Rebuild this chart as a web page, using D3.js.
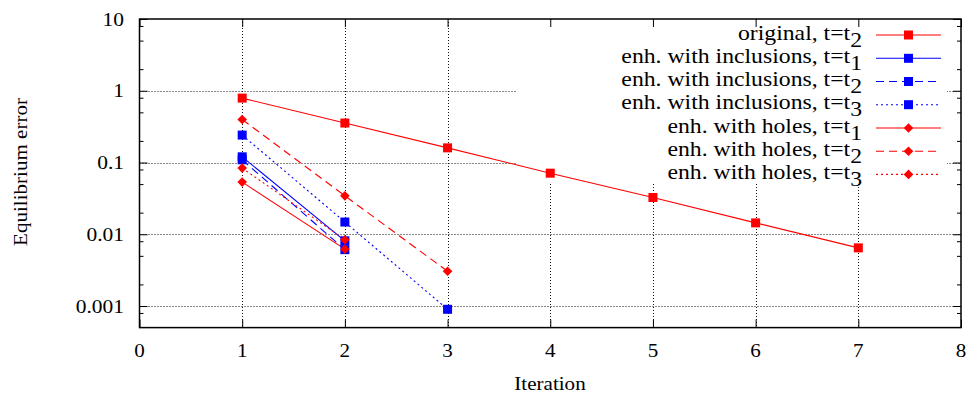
<!DOCTYPE html>
<html>
<head>
<meta charset="utf-8">
<script src="https://cdn.jsdelivr.net/npm/d3@7"></script>
<style>
  html, body { margin: 0; padding: 0; background: #fff; }
  svg { display: block; }
  text { font-family: "Liberation Serif", "DejaVu Serif", serif; fill: #000; }
</style>
</head>
<body>
<svg id="chart" width="968" height="396"></svg>
<script>
// ---- data ----
const xTicks = [0, 1, 2, 3, 4, 5, 6, 7, 8];
const yTicks = [0.001, 0.01, 0.1, 1, 10];
const yTickLabels = ["0.001", "0.01", "0.1", "1", "10"];
const yMinorTicks = [0.0008, 0.002, 0.005, 0.008, 0.02, 0.05, 0.08, 0.2, 0.5, 0.8, 2, 5, 8];

const itersOriginal = [1, 2, 3, 4, 5, 6, 7];
const original = [0.79, 0.355, 0.16, 0.071, 0.0325, 0.0144, 0.00646];
const itersTwo = [1, 2];
const itersThree = [1, 2, 3];
const inclT1 = [0.120, 0.0081];
const inclT2 = [0.109, 0.0061];
const inclT3 = [0.241, 0.0148, 0.00090];
const holesT1 = [0.0533, 0.0062];
const holesT2 = [0.398, 0.0343, 0.00305];
const holesT3 = [0.0835, 0.0084];

const seriesNames = [
  ["original, t=t", "2"],
  ["enh. with inclusions, t=t", "1"],
  ["enh. with inclusions, t=t", "2"],
  ["enh. with inclusions, t=t", "3"],
  ["enh. with holes, t=t", "1"],
  ["enh. with holes, t=t", "2"],
  ["enh. with holes, t=t", "3"]
];

const RED = "#ff0000", BLUE = "#0000ff";
const series = [
  { x: itersOriginal, y: original, color: RED,  dash: null,  marker: "square" },
  { x: itersTwo,      y: inclT1,   color: BLUE, dash: null,  marker: "square" },
  { x: itersTwo,      y: inclT2,   color: BLUE, dash: "8,5", marker: "square" },
  { x: itersThree,    y: inclT3,   color: BLUE, dash: "2,3", marker: "square" },
  { x: itersTwo,      y: holesT1,  color: RED,  dash: null,  marker: "diamond" },
  { x: itersThree,    y: holesT2,  color: RED,  dash: "8,5", marker: "diamond" },
  { x: itersTwo,      y: holesT3,  color: RED,  dash: "2,3", marker: "diamond" }
];

// ---- layout ----
const L = 139.5, R = 961, T = 19, B = 327.6;
const svg = d3.select("#chart");
const x = d3.scaleLinear().domain([0, 8]).range([L, R]);
const y = d3.scaleLog().domain([0.0005, 10]).range([B, T]);

function stretchedText(g, px, py, str, opts) {
  return g.append("text")
    .attr("transform", `translate(${px},${py}) scale(${opts.sx || 1},1)`)
    .attr("font-size", opts.size)
    .attr("text-anchor", opts.anchor || "middle")
    .text(str);
}

// grid
const grid = svg.append("g").attr("stroke", "#111").attr("stroke-width", 1).attr("stroke-dasharray", "1,2");
xTicks.filter(d => d > 0 && d < 8).forEach(d => {
  grid.append("line").attr("x1", Math.round(x(d)) + 0.5).attr("x2", Math.round(x(d)) + 0.5).attr("y1", T).attr("y2", B);
});
yTicks.filter(d => d < 10).forEach(d => {
  grid.append("line").attr("y1", Math.round(y(d)) + 0.5).attr("y2", Math.round(y(d)) + 0.5).attr("x1", L).attr("x2", R);
});

// legend background (covers grid)
svg.append("rect").attr("x", 517).attr("y", T + 1).attr("width", 947 - 517).attr("height", 182 - T - 1).attr("fill", "#fff");

// axes ticks via d3 axis (inward)
const axB = d3.axisBottom(x).tickValues(xTicks).tickSize(-8).tickFormat("");
const axT = d3.axisTop(x).tickValues(xTicks).tickSize(-8).tickFormat("");
const axL = d3.axisLeft(y).tickValues(yTicks).tickSize(-8).tickFormat("");
const axR = d3.axisRight(y).tickValues(yTicks).tickSize(-8).tickFormat("");
const axLm = d3.axisLeft(y).tickValues(yMinorTicks).tickSize(-4).tickFormat("");
const axRm = d3.axisRight(y).tickValues(yMinorTicks).tickSize(-4).tickFormat("");
[[axB, `translate(0,${B})`], [axT, `translate(0,${T})`], [axL, `translate(${L},0)`], [axR, `translate(${R},0)`],
 [axLm, `translate(${L},0)`], [axRm, `translate(${R},0)`]].forEach(([a, tr]) => {
  const g = svg.append("g").attr("transform", tr).call(a);
  g.select(".domain").remove();
  g.selectAll("line").attr("stroke", "#000").attr("stroke-width", 1);
});

// tick labels
const lbl = svg.append("g");
xTicks.forEach(d => stretchedText(lbl, x(d), 357, String(d), { size: 19.5, sx: 1.08 }));
yTicks.forEach((d, i) => stretchedText(lbl, 124, y(d) + 6.5, yTickLabels[i], { size: 19.5, sx: 1.1, anchor: "end" }));

// axis titles
stretchedText(lbl, 550, 390, "Iteration", { size: 19.5, sx: 1.08 });
svg.append("text").attr("transform", "translate(27,172) rotate(-90) scale(1.08,1)")
  .attr("font-size", 19.5).attr("text-anchor", "middle").text("Equilibrium error");

// data lines
const line = d3.line().x(d => x(d[0])).y(d => y(d[1]));
const dataG = svg.append("g");
function drawMarker(g, cx, cy, type, color) {
  if (type === "square") {
    g.append("rect").attr("x", cx - 4.5).attr("y", cy - 4.5).attr("width", 9).attr("height", 9).attr("fill", color);
  } else {
    const s = 4.8;
    g.append("path").attr("d", `M${cx},${cy - s}L${cx + s},${cy}L${cx},${cy + s}L${cx - s},${cy}Z`).attr("fill", color);
  }
}
series.forEach(s => {
  const pts = s.x.map((xi, i) => [xi, s.y[i]]);
  dataG.append("path").attr("d", line(pts)).attr("fill", "none").attr("stroke", s.color).attr("stroke-width", 1.1)
    .attr("stroke-dasharray", s.dash);
});
series.forEach(s => {
  s.x.forEach((xi, i) => drawMarker(dataG, x(xi), y(s.y[i]), s.marker, s.color));
});

// legend
const leg = svg.append("g");
const rowY = [35, 58.3, 81.5, 104.7, 128, 151.2, 174.4];
series.forEach((s, i) => {
  const cy = rowY[i];
  leg.append("line").attr("x1", 876).attr("x2", 941).attr("y1", cy).attr("y2", cy)
    .attr("stroke", s.color).attr("stroke-width", 1.1).attr("stroke-dasharray", s.dash);
  drawMarker(leg, 908.5, cy, s.marker, s.color);
  const t = leg.append("text").attr("transform", `translate(862,${cy + 4.5}) scale(1.13,1)`)
    .attr("font-size", 21).attr("text-anchor", "end");
  t.append("tspan").text(seriesNames[i][0]);
  t.append("tspan").attr("dy", 7).text(seriesNames[i][1]);
});

// border
svg.append("rect").attr("x", L).attr("y", T).attr("width", R - L).attr("height", B - T)
  .attr("fill", "none").attr("stroke", "#000").attr("stroke-width", 1.5);
</script>
</body>
</html>
